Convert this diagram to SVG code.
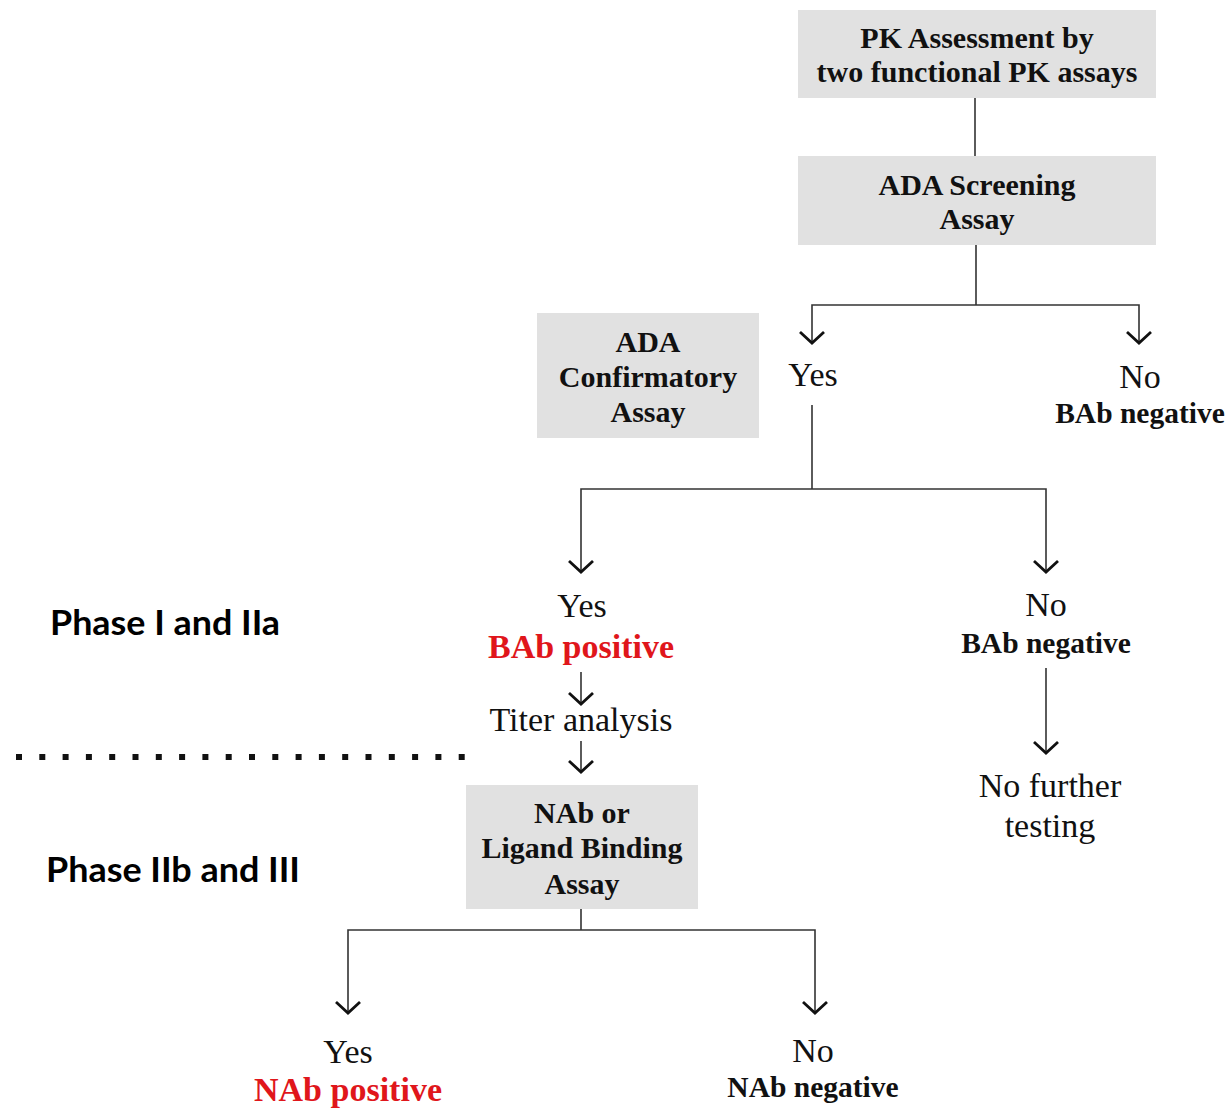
<svg xmlns="http://www.w3.org/2000/svg" width="1229" height="1109" viewBox="0 0 1229 1109">
<defs>
<marker id="arr" markerUnits="userSpaceOnUse" markerWidth="30" markerHeight="30" refX="15" refY="15" orient="auto" viewBox="0 0 30 30">
<path d="M4,3 L15,15 L4,27" fill="none" stroke="#111" stroke-width="2.8"/>
</marker>
</defs>
<style>
.box{fill:#e1e1e1}
.bt{font-family:"Liberation Serif","Times New Roman",serif;font-weight:bold;font-size:30px;fill:#111;text-anchor:middle}
.rt{font-family:"Liberation Serif","Times New Roman",serif;font-size:34px;fill:#111;text-anchor:middle}
.bn{font-family:"Liberation Serif","Times New Roman",serif;font-weight:bold;font-size:29.5px;fill:#111;text-anchor:middle}
.red{font-family:"Liberation Serif","Times New Roman",serif;font-weight:bold;font-size:34px;fill:#e0161b;text-anchor:middle}
.ph{font-family:Lato,"Open Sans",sans-serif;font-weight:bold;font-size:34px;fill:#000}
.ln{fill:none;stroke:#333;stroke-width:1.6}
.ar{fill:none;stroke:#333;stroke-width:1.6;marker-end:url(#arr)}
</style>
<rect width="1229" height="1109" fill="#fff"/>
<g id="connectors">
<line class="ln" x1="975" y1="98" x2="975" y2="156"/>
<polyline class="ln" points="976,245 976,305"/>
<polyline class="ar" points="976,305 812,305 812,343"/>
<polyline class="ar" points="976,305 1139,305 1139,343"/>
<polyline class="ln" points="812,405 812,489"/>
<polyline class="ar" points="812,489 581,489 581,572"/>
<polyline class="ar" points="812,489 1046,489 1046,572"/>
<line class="ar" x1="581" y1="672" x2="581" y2="704"/>
<line class="ar" x1="581" y1="741" x2="581" y2="772"/>
<line class="ar" x1="1046" y1="668" x2="1046" y2="753"/>
<polyline class="ln" points="581,909 581,930"/>
<polyline class="ar" points="581,930 348,930 348,1013"/>
<polyline class="ar" points="581,930 815,930 815,1013"/>
</g>
<g id="divider" fill="#111">
<rect x="16" y="754" width="6" height="6"/><rect x="39.3" y="754" width="6" height="6"/><rect x="62.6" y="754" width="6" height="6"/><rect x="85.9" y="754" width="6" height="6"/><rect x="109.2" y="754" width="6" height="6"/><rect x="132.5" y="754" width="6" height="6"/><rect x="155.8" y="754" width="6" height="6"/><rect x="179.1" y="754" width="6" height="6"/><rect x="202.4" y="754" width="6" height="6"/><rect x="225.7" y="754" width="6" height="6"/><rect x="249" y="754" width="6" height="6"/><rect x="272.3" y="754" width="6" height="6"/><rect x="295.6" y="754" width="6" height="6"/><rect x="318.9" y="754" width="6" height="6"/><rect x="342.2" y="754" width="6" height="6"/><rect x="365.5" y="754" width="6" height="6"/><rect x="388.8" y="754" width="6" height="6"/><rect x="412.1" y="754" width="6" height="6"/><rect x="435.4" y="754" width="6" height="6"/><rect x="458.7" y="754" width="6" height="6"/>
</g>
<g id="pk">
<rect class="box" x="798" y="10" width="358" height="88"/>
<text class="bt" x="977" y="48">PK Assessment by</text>
<text class="bt" x="977" y="82">two functional PK assays</text>
</g>
<g id="screening">
<rect class="box" x="798" y="156" width="358" height="89"/>
<text class="bt" x="977" y="195">ADA Screening</text>
<text class="bt" x="977" y="229">Assay</text>
</g>
<g id="confirmatory">
<rect class="box" x="537" y="313" width="222" height="125"/>
<text class="bt" x="648" y="352">ADA</text>
<text class="bt" x="648" y="387">Confirmatory</text>
<text class="bt" x="648" y="422">Assay</text>
</g>
<g id="yes1"><text class="rt" x="813" y="386">Yes</text></g>
<g id="no1">
<text class="rt" x="1140" y="388">No</text>
<text class="bn" x="1140" y="423">BAb negative</text>
</g>
<g id="yes2">
<text class="rt" x="582" y="617">Yes</text>
<text class="red" x="581" y="658">BAb positive</text>
</g>
<g id="no2">
<text class="rt" x="1046" y="616">No</text>
<text class="bn" x="1046" y="653">BAb negative</text>
</g>
<g id="titer"><text class="rt" x="581" y="731">Titer analysis</text></g>
<g id="nofurther">
<text class="rt" x="1050" y="797">No further</text>
<text class="rt" x="1050" y="837">testing</text>
</g>
<g id="nab">
<rect class="box" x="466" y="785" width="232" height="124"/>
<text class="bt" x="582" y="823">NAb or</text>
<text class="bt" x="582" y="858">Ligand Binding</text>
<text class="bt" x="582" y="894">Assay</text>
</g>
<g id="yes3">
<text class="rt" x="348" y="1063">Yes</text>
<text class="red" x="348" y="1101">NAb positive</text>
</g>
<g id="no3">
<text class="rt" x="813" y="1062">No</text>
<text class="bn" x="813" y="1097">NAb negative</text>
</g>
<g id="phase1"><text class="ph" x="50" y="635" textLength="230" lengthAdjust="spacingAndGlyphs">Phase I and IIa</text></g>
<g id="phase2"><text class="ph" x="46" y="882" textLength="254" lengthAdjust="spacingAndGlyphs">Phase IIb and III</text></g>
</svg>
